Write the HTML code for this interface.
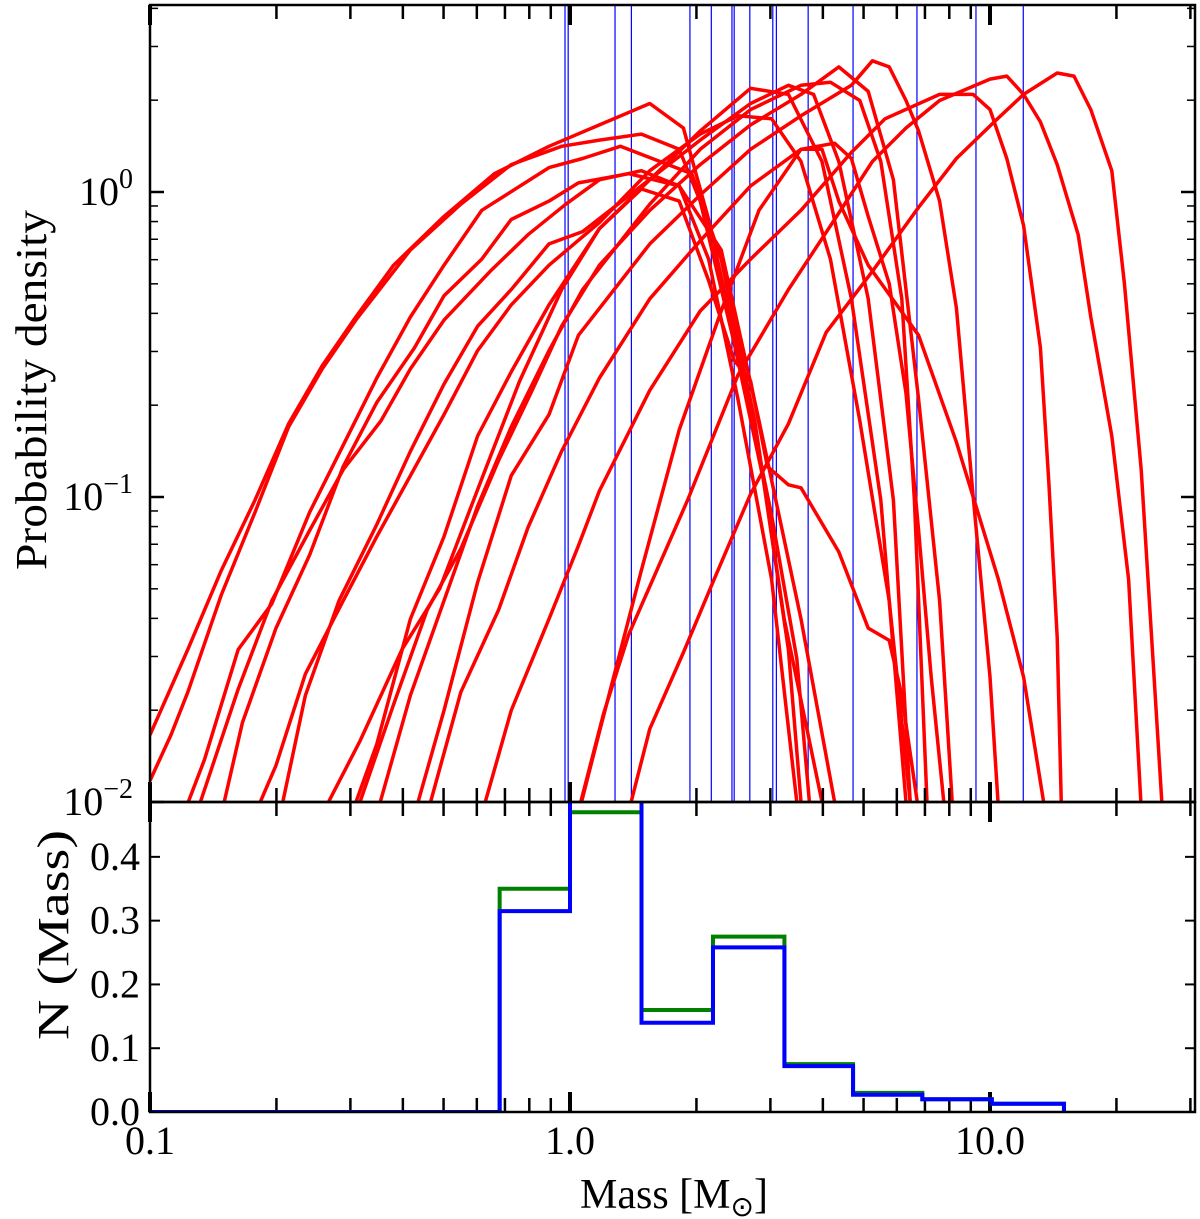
<!DOCTYPE html>
<html><head><meta charset="utf-8"><style>
html,body{margin:0;padding:0;background:#fff;}
svg{display:block;font-family:"Liberation Serif",serif;}
</style></head><body>
<svg id="chart" width="1200" height="1219" viewBox="0 0 1200 1219">
<g id="top-panel"></g>
<g id="bottom-panel"></g>
<g id="labels"></g>
</svg>
<script>
// ---- data (curves stored as log10 mass / log10 density) ----
const xTickValues = [0.1, 1.0, 10.0];
const xTickLabels = ["0.1", "1.0", "10.0"];
const yTopTickExp = [-2, -1, 0];
const yBottomTicks = [0.0, 0.1, 0.2, 0.3, 0.4];
const yBottomTickLabels = ["0.0", "0.1", "0.2", "0.3", "0.4"];
const starMasses = [0.973, 0.99, 1.28, 1.40, 1.93, 2.17, 2.43, 2.46, 2.68, 3.04, 3.10, 3.69, 4.72, 6.70, 9.26, 12.0];
const binEdges = [0.68, 1.0, 1.48, 2.19, 3.24, 4.72, 6.9, 10.1, 15.0];
const greenCounts = [0.35, 0.47, 0.16, 0.275, 0.075, 0.03, 0.02, 0.013];
const blueCounts = [0.315, 0.52, 0.14, 0.258, 0.072, 0.027, 0.02, 0.013];

const aLM = [-1.00,-0.91,-0.83,-0.75,-0.67,-0.59,-0.51,-0.42,-0.30,-0.18,-0.05,0.07,0.19,0.27,0.33,0.41,0.48,0.54,0.57];
const aLD = [-1.78,-1.50,-1.24,-1.01,-0.76,-0.57,-0.41,-0.24,-0.08,0.06,0.15,0.22,0.29,0.21,-0.09,-0.59,-1.06,-1.53,-2.00];
const bLM = [-1.00,-0.95,-0.91,-0.83,-0.75,-0.67,-0.59,-0.51,-0.38,-0.26,-0.14,-0.02,0.07,0.17,0.26,0.31,0.39,0.46,0.52,0.55];
const bLD = [-1.93,-1.78,-1.64,-1.32,-1.05,-0.77,-0.58,-0.42,-0.19,-0.04,0.09,0.15,0.17,0.19,0.14,-0.03,-0.49,-0.94,-1.50,-2.00];
const cLM = [-0.92,-0.87,-0.79,-0.71,-0.62,-0.54,-0.46,-0.38,-0.30,-0.21,-0.05,0.03,0.12,0.29,0.36,0.44,0.51,0.60];
const cLD = [-2.04,-1.86,-1.50,-1.35,-1.05,-0.83,-0.61,-0.41,-0.24,-0.06,0.08,0.11,0.15,0.06,-0.22,-0.75,-1.40,-2.00];
const dLM = [-0.88,-0.79,-0.71,-0.62,-0.54,-0.45,-0.38,-0.30,-0.19,-0.10,-0.01,0.07,0.17,0.26,0.33,0.40,0.48,0.54];
const dLD = [-2.00,-1.63,-1.34,-1.11,-0.91,-0.75,-0.58,-0.42,-0.26,-0.14,-0.04,0.04,0.07,0.02,-0.22,-0.68,-1.27,-2.00];
const eLM = [-0.83,-0.78,-0.70,-0.62,-0.54,-0.46,-0.37,-0.30,-0.21,-0.14,-0.05,0.02,0.14,0.26,0.36,0.45,0.55,0.63];
const eLD = [-2.04,-1.74,-1.43,-1.19,-0.90,-0.69,-0.51,-0.34,-0.22,-0.09,-0.03,0.03,0.06,0.02,-0.19,-0.75,-1.40,-2.00];
const fLM = [-0.75,-0.70,-0.63,-0.54,-0.46,-0.38,-0.30,-0.22,-0.14,-0.05,0.07,0.19,0.31,0.40,0.48,0.55,0.62,0.69,0.76,0.81];
const fLD = [-2.04,-1.88,-1.58,-1.34,-1.13,-0.93,-0.73,-0.52,-0.37,-0.24,-0.10,0.07,0.19,0.25,0.24,0.10,-0.22,-0.75,-1.34,-2.00];
const gLM = [-0.69,-0.63,-0.55,-0.46,-0.38,-0.30,-0.22,-0.14,-0.05,0.03,0.17,0.31,0.43,0.52,0.58,0.64,0.71,0.77,0.81];
const gLD = [-2.04,-1.65,-1.34,-1.09,-0.85,-0.63,-0.44,-0.32,-0.17,-0.13,0.02,0.17,0.29,0.35,0.32,0.10,-0.35,-1.01,-2.00];
const wLM = [-0.59,-0.50,-0.40,-0.31,-0.21,-0.12,-0.02,0.07,0.17,0.26,0.33,0.39,0.43,0.47,0.52,0.55,0.64,0.71,0.76,0.79,0.83];
const wLD = [-2.04,-1.80,-1.50,-1.30,-0.94,-0.62,-0.32,-0.12,0.01,-0.03,-0.29,-0.55,-0.62,-0.90,-0.96,-0.97,-1.18,-1.43,-1.47,-1.65,-2.03];
const hLM = [-0.52,-0.46,-0.38,-0.30,-0.22,-0.14,-0.05,0.07,0.19,0.31,0.43,0.52,0.60,0.67,0.74,0.80];
const hLD = [-2.04,-1.81,-1.40,-1.13,-0.80,-0.59,-0.37,-0.12,0.04,0.20,0.34,0.32,0.10,-0.35,-1.01,-2.00];
const iLM = [-0.51,-0.42,-0.34,-0.26,-0.17,-0.09,-0.02,0.07,0.19,0.31,0.43,0.55,0.64,0.71,0.77,0.83,0.88,0.91];
const iLD = [-2.04,-1.68,-1.37,-1.17,-0.88,-0.65,-0.44,-0.24,-0.06,0.09,0.22,0.32,0.41,0.33,0.04,-0.68,-1.34,-2.00];
const jLM = [-0.46,-0.38,-0.30,-0.22,-0.14,-0.05,0.03,0.19,0.31,0.43,0.55,0.62,0.69,0.74,0.79,0.82,0.85];
const jLD = [-2.04,-1.65,-1.34,-1.03,-0.77,-0.52,-0.32,-0.04,0.14,0.27,0.35,0.36,0.30,0.10,-0.35,-1.01,-2.00];
const kLM = [-0.37,-0.30,-0.22,-0.14,-0.05,0.02,0.19,0.31,0.43,0.55,0.67,0.72,0.76,0.80,0.83,0.88,0.92,0.96,1.00,1.02];
const kLD = [-2.04,-1.70,-1.28,-0.93,-0.73,-0.47,-0.17,-0.01,0.14,0.25,0.35,0.43,0.41,0.30,0.20,-0.03,-0.38,-1.00,-1.59,-2.02];
const lLM = [-0.34,-0.26,-0.17,-0.10,-0.02,0.07,0.19,0.31,0.43,0.55,0.63,0.67,0.71,0.76,0.80,0.83,0.86,0.89];
const lLD = [-2.04,-1.64,-1.37,-1.10,-0.85,-0.61,-0.35,-0.16,0.02,0.14,0.16,0.11,-0.08,-0.30,-0.66,-1.11,-1.59,-2.00];
const mLM = [-0.21,-0.14,-0.05,0.02,0.07,0.19,0.31,0.43,0.55,0.67,0.75,0.88,0.96,1.00,1.04,1.08,1.12,1.14,1.16,1.17];
const mLD = [-2.04,-1.70,-1.40,-1.16,-0.98,-0.65,-0.39,-0.22,-0.06,0.13,0.24,0.32,0.32,0.27,0.11,-0.11,-0.51,-0.95,-1.46,-2.02];
const rLM = [0.02,0.07,0.17,0.26,0.36,0.45,0.55,0.60,0.64,0.71,0.83,0.92,1.02,1.08,1.13];
const rLD = [-2.04,-1.77,-1.24,-0.78,-0.39,-0.06,0.14,0.14,-0.03,-0.24,-0.47,-0.82,-1.27,-1.59,-2.02];
const qLM = [0.02,0.08,0.14,0.28,0.40,0.52,0.63,0.72,0.80,0.88,1.00,1.04,1.08,1.12,1.16,1.21,1.24,1.29,1.33,1.36];
const qLD = [-2.03,-1.71,-1.45,-1.01,-0.60,-0.32,-0.09,0.10,0.21,0.30,0.37,0.38,0.32,0.23,0.09,-0.14,-0.41,-0.80,-1.27,-2.02];
const pLM = [0.14,0.19,0.27,0.34,0.43,0.52,0.61,0.72,0.83,0.92,1.01,1.08,1.16,1.20,1.24,1.29,1.32,1.36,1.41];
const pLD = [-2.03,-1.76,-1.51,-1.28,-0.99,-0.76,-0.46,-0.26,-0.05,0.11,0.23,0.32,0.39,0.38,0.27,0.07,-0.30,-0.91,-2.02];

const curveMasses = [aLM,bLM,cLM,dLM,eLM,fLM,gLM,wLM,hLM,iLM,jLM,kLM,lLM,mLM,rLM,qLM,pLM];
const curveDensities = [aLD,bLD,cLD,dLD,eLD,fLD,gLD,wLD,hLD,iLD,jLD,kLD,lLD,mLD,rLD,qLD,pLD];

// ---- layout ----
const L = 150, R = 1195, T = 5, MID = 802, B = 1112;
const PX_PER_DEC_X = 420, PX_PER_DEC_Y = 305;
const yBotMax = 0.486;
function xl(logm){ return L + (logm + 1) * PX_PER_DEC_X; }
function xs(m){ return xl(Math.log10(m)); }
function yl(logd){ return MID - (logd + 2) * PX_PER_DEC_Y; }
function yTop(d){ return yl(Math.log10(d)); }
function yBot(v){ return B - v / yBotMax * (B - MID); }
const xMax = Math.pow(10, (R - L) / PX_PER_DEC_X - 1);
const yTopMaxLog = (MID - T) / PX_PER_DEC_Y - 2;

const NS = "http://www.w3.org/2000/svg";
function mk(tag, attrs, parent){ const e = document.createElementNS(NS, tag); for (const k in attrs) e.setAttribute(k, attrs[k]); parent.appendChild(e); return e; }
const topG = document.getElementById("top-panel");
const botG = document.getElementById("bottom-panel");
const labG = document.getElementById("labels");

const defs = mk("defs", {}, document.getElementById("chart"));
const cp = mk("clipPath", {id: "clipTop"}, defs);
mk("rect", {x: L, y: T, width: R - L, height: MID - T}, cp);
const cp2 = mk("clipPath", {id: "clipBot"}, defs);
mk("rect", {x: L, y: MID, width: R - L, height: B - MID}, cp2);

const gTopData = mk("g", {"clip-path": "url(#clipTop)"}, topG);
starMasses.forEach(m => {
  const ln = mk("line", {x1: xs(m), x2: xs(m), y1: T, y2: MID, stroke: "#0000ff", "stroke-width": 1.2}, gTopData);
  
  
});
curveMasses.forEach((lm, ci) => {
  const ld = curveDensities[ci];
  const pts = lm.map((v, i) => xl(v).toFixed(1) + "," + yl(ld[i]).toFixed(1)).join(" ");
  const p = mk("polyline", {points: pts, fill: "none", stroke: "#ff0000", "stroke-width": 3.5, "stroke-linejoin": "round"}, gTopData);
  
  
});

const gBotData = mk("g", {"clip-path": "url(#clipBot)"}, botG);
function stepPath(counts){
  let d = "M" + L + "," + yBot(0) + " L" + xs(binEdges[0]) + "," + yBot(0);
  counts.forEach((v, i) => { d += " L" + xs(binEdges[i]) + "," + yBot(v) + " L" + xs(binEdges[i + 1]) + "," + yBot(v); });
  d += " L" + xs(binEdges[binEdges.length - 1]) + "," + yBot(0);
  return d;
}
const gp = mk("path", {d: stepPath(greenCounts), fill: "none", stroke: "#008000", "stroke-width": 4}, gBotData);


const bp = mk("path", {d: stepPath(blueCounts), fill: "none", stroke: "#0000ff", "stroke-width": 4}, gBotData);



const f1 = mk("rect", {x: L, y: T, width: R - L, height: MID - T, fill: "none", stroke: "#000", "stroke-width": 2.5}, topG);


const f2 = mk("rect", {x: L, y: MID, width: R - L, height: B - MID, fill: "none", stroke: "#000", "stroke-width": 2.5}, botG);



function tick(ax, ay, bx, by, w, g){ mk("line", {x1: ax, y1: ay, x2: bx, y2: by, stroke: "#000", "stroke-width": w}, g); }
const gx = mk("g", {}, topG);


for (let e = -1; e <= 1; e++) {
  for (let k = 1; k <= 9; k++) {
    const m = k * Math.pow(10, e);
    if (m > xMax) continue;
    const x = xs(m), major = k === 1, len = major ? 20 : 14, w = major ? 4 : 2.5;
    [[T, 1], [MID, -1], [MID, 1], [B, -1]].forEach(([y0, dir]) => tick(x, y0, x, y0 + dir * len, w, gx));
  }
}
const gy = mk("g", {}, topG);


for (let e = -2; e <= 0; e++) {
  for (let k = 1; k <= 9; k++) {
    const v = k * Math.pow(10, e);
    if (Math.log10(v) > yTopMaxLog) continue;
    const y = yTop(v), major = k === 1, len = major ? 14 : 8, w = major ? 2.5 : 1.5;
    tick(L, y, L + len, y, w, gy); tick(R, y, R - len, y, w, gy);
  }
}
yTopTickExp.forEach(e => {
  const t = mk("text", {x: 133, y: yl(e) + 13, "text-anchor": "end", "font-size": 40}, labG);
  t.textContent = "10";
  const s = mk("tspan", {dy: -17, "font-size": 28}, t);
  s.textContent = e === 0 ? "0" : "\u2212" + Math.abs(e);
  
  
});
yBottomTicks.forEach((v, i) => {
  const y = yBot(v);
  tick(L, y, L + 10, y, 2, botG); tick(R, y, R - 10, y, 2, botG);
  const t = mk("text", {x: 140, y: y + 13, "text-anchor": "end", "font-size": 40}, labG);
  t.textContent = yBottomTickLabels[i];
  
  
});
xTickValues.forEach((v, i) => {
  const t = mk("text", {x: xs(v), y: 1154, "text-anchor": "middle", "font-size": 40}, labG);
  t.textContent = xTickLabels[i];
  
  
});
const xt = mk("text", {x: 580, y: 1208, "font-size": 42}, labG);
xt.textContent = "Mass [M";
const sub = mk("tspan", {dy: 8, "font-size": 28}, xt);
sub.textContent = "\u2299";
const cl = mk("tspan", {dy: -8}, xt);
cl.textContent = "]";


const ylab = mk("text", {x: 0, y: 0, "text-anchor": "middle", "font-size": 44, textLength: 360, lengthAdjust: "spacingAndGlyphs", transform: "translate(46,390) rotate(-90)"}, labG);
ylab.textContent = "Probability density";


const ylab2 = mk("text", {x: 0, y: 0, "text-anchor": "middle", "font-size": 44, textLength: 210, lengthAdjust: "spacingAndGlyphs", transform: "translate(68,935) rotate(-90)"}, labG);
ylab2.textContent = "N (Mass)";


</script>
</body></html>
